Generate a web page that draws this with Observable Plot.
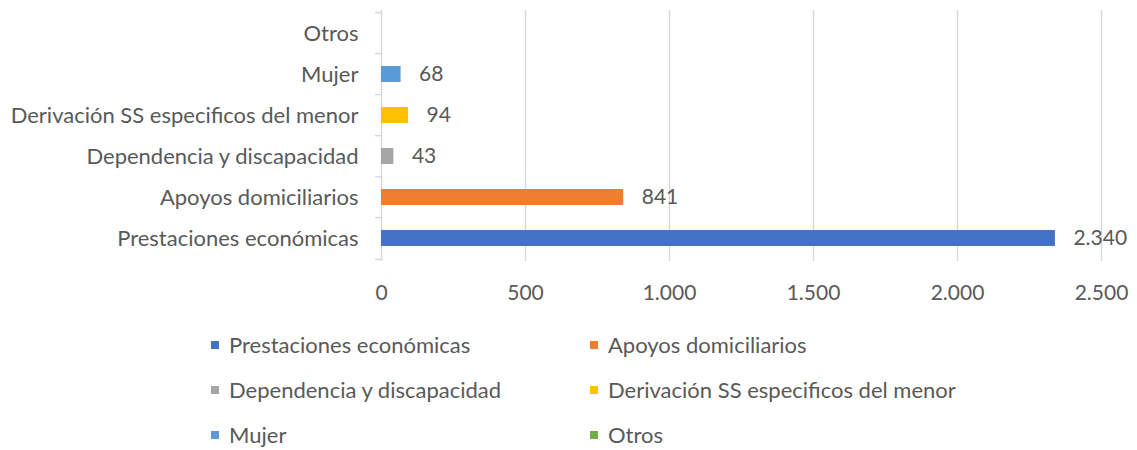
<!DOCTYPE html>
<html>
<head>
<meta charset="utf-8">
<script src="https://cdn.jsdelivr.net/npm/d3@7"></script>
<script src="https://cdn.jsdelivr.net/npm/@observablehq/plot@0.6"></script>
<style>
  body { margin: 0; background: #fff; font-family: Lato, "Open Sans", sans-serif; }
  #chart { width: 1137px; }
  #legend { display: grid; grid-template-columns: 379px 379px; grid-auto-rows: 45px; padding-left: 211px; padding-top: 2px; color: #595959; font-size: 22px; }
  .item { display: flex; align-items: center; }
  .sw { width: 8px; height: 8px; margin-right: 10px; flex: none; }
</style>
</head>
<body>
<div id="chart"></div>
<div id="legend"></div>
<script>
const categories = ["Prestaciones económicas", "Apoyos domiciliarios", "Dependencia y discapacidad", "Derivación SS especificos del menor", "Mujer", "Otros"];
const values = [2340, 841, 43, 94, 68, 0];
const colors = ["#4472C4", "#ED7D31", "#A5A5A5", "#FFC000", "#5B9BD5", "#70AD47"];
const xTicks = [0, 500, 1000, 1500, 2000, 2500];

const data = categories.map((c, i) => ({category: c, value: values[i], color: colors[i]}));
const fmt = d3.formatLocale({decimal: ",", thousands: ".", grouping: [3], currency: ["", "€"]}).format(",d");
const yOrder = categories.slice().reverse();
const textColor = "#595959";

const plot = Plot.plot({
  width: 1137,
  height: 320,
  marginLeft: 381,
  marginRight: 36,
  marginTop: 10,
  marginBottom: 59,
  style: {fontFamily: "Lato, 'Open Sans', sans-serif", background: "#fff", color: textColor},
  x: {domain: [0, 2500], ticks: xTicks},
  y: {domain: yOrder, paddingInner: 0.6, paddingOuter: 0.3},
  marks: [
    Plot.ruleX(xTicks, {stroke: "#D9D9D9", strokeWidth: 1.5}),
    Plot.ruleY(yOrder, {y: d => d, dy: -20.9, x1: -21, x2: 0, stroke: "#D9D9D9", strokeWidth: 1.5}),
    Plot.ruleY(yOrder.slice(-1), {y: d => d, dy: 20.9, x1: -21, x2: 0, stroke: "#D9D9D9", strokeWidth: 1.5}),
    Plot.barX(data, {x: "value", y: "category", fill: "color"}),
    Plot.text(data.filter(d => d.value > 0), {x: "value", y: "category", text: d => fmt(d.value), dx: 18, textAnchor: "start", fontSize: 21, fill: textColor}),
    Plot.axisY({tickSize: 0, tickPadding: 23, fontSize: 22, fill: textColor, label: null}),
    Plot.axisX({ticks: xTicks, tickSize: 0, tickPadding: 24, fontSize: 21, fill: textColor, label: null, tickFormat: fmt})
  ]
});
document.getElementById("chart").appendChild(plot);

const legend = document.getElementById("legend");
data.forEach(d => {
  const item = document.createElement("div");
  item.className = "item";
  const sw = document.createElement("span");
  sw.className = "sw";
  sw.style.background = d.color;
  const t = document.createElement("span");
  t.textContent = d.category;
  item.appendChild(sw);
  item.appendChild(t);
  legend.appendChild(item);
});
</script>
</body>
</html>
